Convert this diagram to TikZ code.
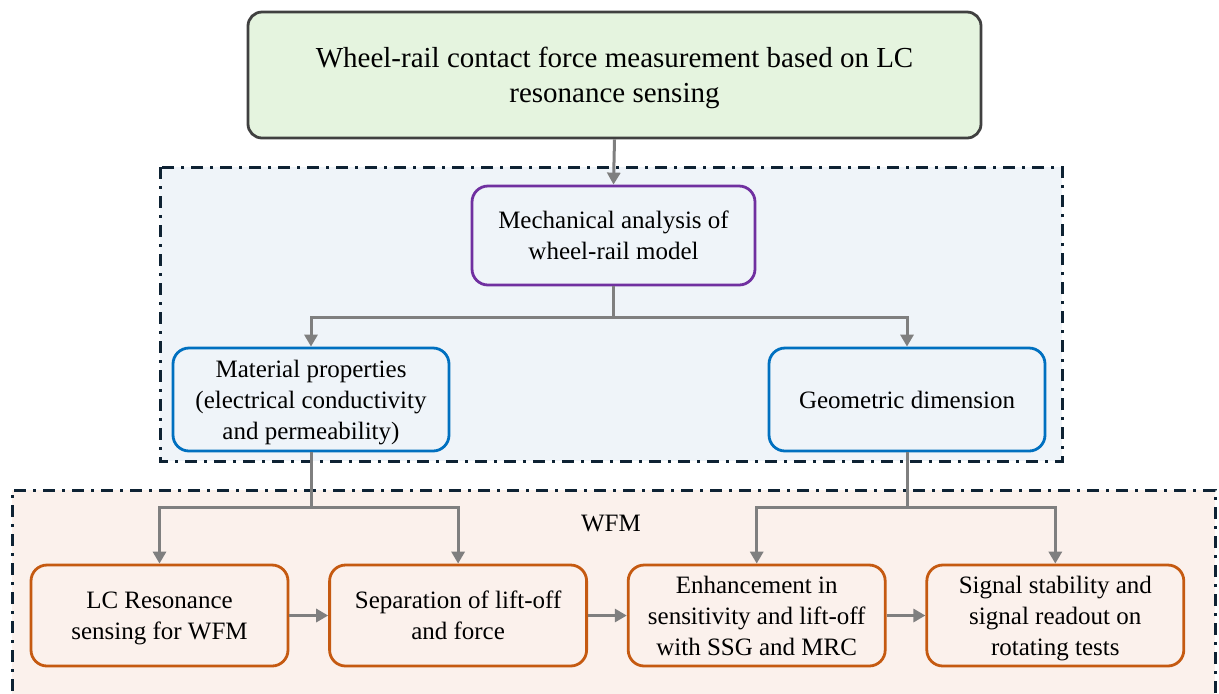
\documentclass[tikz,border=0pt]{standalone}
\usepackage{fontspec}
\setmainfont{Liberation Serif}
\usetikzlibrary{positioning,arrows.meta}

\definecolor{topfill}{HTML}{E5F4DF}
\definecolor{topline}{HTML}{404040}
\definecolor{bluebg}{HTML}{EFF4F9}
\definecolor{pinkbg}{HTML}{FBF1EC}
\definecolor{frameline}{HTML}{0E2233}
\definecolor{purpleline}{HTML}{7030A0}
\definecolor{blueline}{HTML}{0070C0}
\definecolor{orangeline}{HTML}{C55A11}
\definecolor{linkgray}{HTML}{7F7F7F}

\tikzset{
  box/.style={draw, rounded corners=8pt, line width=1.4pt, align=center,
    font=\fontsize{12.5}{15.5}\selectfont, inner sep=2pt},
  topbox/.style={box, draw=topline, fill=topfill, rounded corners=7pt,
    font=\fontsize{14.5}{17.5}\selectfont, text depth=0pt,
    minimum width=366.5pt, minimum height=63pt},
  mechbox/.style={box, draw=purpleline, text depth=0pt,
    minimum width=141.5pt, minimum height=49.5pt},
  propbox/.style={box, draw=blueline, minimum width=138pt, minimum height=51.5pt},
  stagebox/.style={box, draw=orangeline, text depth=0pt,
    minimum width=128.5pt, minimum height=50.5pt},
  region/.style={line width=1.5pt, draw=frameline,
    dash pattern=on 6pt off 3.5pt on 1.5pt off 3.5pt},
  link/.style={draw=linkgray, line width=1.5pt},
  arr/.style={link, -{Triangle[length=6pt, width=6.5pt]}},
}

\begin{document}
\begin{tikzpicture}[x=0.5pt, y=-0.5pt]
    \useasboundingbox (0,0) rectangle (1219,693);
    \clip (0,0) rectangle (1219,693);

    % 背景区域
    \fill[bluebg] (160,167) rectangle (1062,461);
    \draw[region] (160,167) rectangle (1062,461);
    \fill[pinkbg] (12,490) rectangle (1215,720);
    \draw[region] (12,720) -- (12,490) -- (1215,490) -- (1215,720);

    % 顶部框
    \node[topbox] (top) at (614.5,75) {Wheel-rail contact force measurement based on LC\\resonance sensing};

    % 分析与参数
    \node[mechbox] (mech) at (613.5,235.5) {Mechanical analysis of\\wheel-rail model};
    \node[propbox, text depth=-2pt] (mat) at (311,399.5) {Material properties\\(electrical conductivity\\and permeability)};
    \node[propbox] (geo) at (907,399.5) {Geometric dimension};

    % WFM 流程
    \node (wfm) at (611,523) {\fontsize{12.5}{15.5}\selectfont WFM};
    \node[stagebox] (lc) at (159.5,615.5) {LC Resonance\\sensing for WFM};
    \node[stagebox, right=19.4pt of lc] (sep) {Separation of lift-off\\and force};
    \node[stagebox, right=19.4pt of sep] (enh) {Enhancement in\\sensitivity and lift-off\\with SSG and MRC};
    \node[stagebox, right=19.4pt of enh] (sig) {Signal stability and\\signal readout on\\rotating tests};

    % 连接线
    \draw[arr] (top.south) -- (mech.north);
    \coordinate (mj) at (613.5,317);
    \draw[link] (mech.south) -- (mj);
    \draw[arr] (mj) -| (mat.north);
    \draw[arr] (mj) -| (geo.north);

    \coordinate (lj) at (311,507);
    \draw[link] (mat.south) -- (lj);
    \draw[arr] (lj) -| (lc.north);
    \draw[arr] (lj) -| (sep.north);

    \coordinate (rj) at (907,507);
    \draw[link] (geo.south) -- (rj);
    \draw[arr] (rj) -| (enh.north);
    \draw[arr] (rj) -| (sig.north);

    \draw[arr] (lc) -- (sep);
    \draw[arr] (sep) -- (enh);
    \draw[arr] (enh) -- (sig);
\end{tikzpicture}
\end{document}
